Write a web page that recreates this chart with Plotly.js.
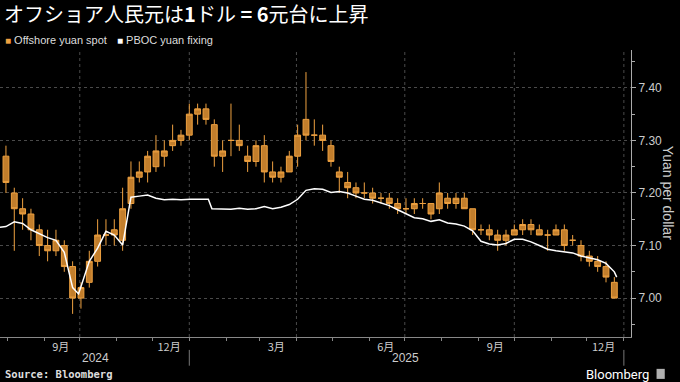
<!DOCTYPE html>
<html>
<head>
<meta charset="utf-8">
<script src="https://cdn.plot.ly/plotly-3.0.1.min.js"></script>
<style>
html,body{margin:0;padding:0;background:#000;}
#chart{width:680px;height:382px;}
</style>
</head>
<body>
<div id="chart"></div>
<script>
// Offshore yuan spot, weekly candles (week mid-point dates)
const spotDates = ['2024-07-31','2024-08-07','2024-08-14','2024-08-21','2024-08-28','2024-09-04','2024-09-11','2024-09-18','2024-09-25','2024-10-02','2024-10-09','2024-10-16','2024-10-23','2024-10-30','2024-11-06','2024-11-13','2024-11-20','2024-11-27','2024-12-04','2024-12-11','2024-12-18','2024-12-25','2025-01-01','2025-01-08','2025-01-15','2025-01-22','2025-01-29','2025-02-05','2025-02-12','2025-02-19','2025-02-26','2025-03-05','2025-03-12','2025-03-19','2025-03-26','2025-04-02','2025-04-09','2025-04-16','2025-04-23','2025-04-30','2025-05-07','2025-05-14','2025-05-21','2025-05-28','2025-06-04','2025-06-11','2025-06-18','2025-06-25','2025-07-02','2025-07-09','2025-07-16','2025-07-23','2025-07-30','2025-08-06','2025-08-13','2025-08-20','2025-08-27','2025-09-03','2025-09-10','2025-09-17','2025-09-24','2025-10-01','2025-10-08','2025-10-15','2025-10-22','2025-10-29','2025-11-05','2025-11-12','2025-11-19','2025-11-26','2025-12-03','2025-12-10','2025-12-17','2025-12-24'];
const spotOpen  = [7.27,7.20,7.17,7.16,7.13,7.10,7.09,7.10,7.06,7.00,7.03,7.07,7.12,7.13,7.11,7.18,7.23,7.24,7.25,7.27,7.29,7.30,7.31,7.35,7.36,7.33,7.27,7.30,7.30,7.27,7.26,7.29,7.24,7.23,7.24,7.27,7.34,7.31,7.31,7.29,7.24,7.22,7.21,7.20,7.20,7.19,7.19,7.18,7.17,7.17,7.18,7.18,7.17,7.19,7.18,7.19,7.17,7.13,7.13,7.12,7.11,7.12,7.13,7.14,7.13,7.12,7.12,7.13,7.11,7.10,7.08,7.07,7.06,7.03];
const spotHigh  = [7.29,7.21,7.19,7.17,7.14,7.13,7.13,7.11,7.07,7.03,7.09,7.15,7.15,7.15,7.21,7.26,7.26,7.28,7.31,7.30,7.33,7.32,7.37,7.37,7.37,7.34,7.30,7.37,7.33,7.29,7.30,7.31,7.26,7.25,7.28,7.33,7.43,7.34,7.33,7.30,7.25,7.24,7.22,7.22,7.21,7.20,7.20,7.19,7.19,7.19,7.19,7.18,7.22,7.20,7.20,7.20,7.17,7.14,7.14,7.13,7.13,7.14,7.15,7.15,7.14,7.13,7.14,7.14,7.12,7.11,7.09,7.08,7.07,7.04];
const spotLow   = [7.20,7.09,7.13,7.11,7.08,7.07,7.08,7.05,6.97,6.98,7.02,7.06,7.10,7.10,7.09,7.17,7.22,7.22,7.24,7.25,7.28,7.29,7.30,7.33,7.33,7.25,7.24,7.27,7.28,7.24,7.25,7.22,7.22,7.22,7.24,7.25,7.30,7.29,7.28,7.25,7.20,7.19,7.19,7.19,7.18,7.18,7.17,7.16,7.16,7.16,7.17,7.15,7.16,7.17,7.17,7.17,7.12,7.12,7.11,7.09,7.10,7.12,7.12,7.12,7.12,7.09,7.12,7.09,7.10,7.07,7.06,7.05,7.03,7.00];
const spotClose = [7.22,7.17,7.16,7.13,7.10,7.09,7.11,7.06,7.00,7.02,7.07,7.12,7.12,7.12,7.17,7.23,7.24,7.27,7.28,7.28,7.30,7.31,7.35,7.36,7.34,7.27,7.28,7.30,7.29,7.26,7.29,7.24,7.23,7.24,7.27,7.31,7.31,7.31,7.30,7.26,7.23,7.21,7.20,7.20,7.19,7.19,7.18,7.17,7.17,7.18,7.18,7.16,7.20,7.18,7.19,7.17,7.13,7.13,7.12,7.11,7.12,7.13,7.14,7.13,7.12,7.12,7.13,7.10,7.11,7.08,7.07,7.06,7.04,7.00];

// PBOC fixing
const fixDates = ['2024-07-26','2024-07-31','2024-08-07','2024-08-14','2024-08-21','2024-08-28','2024-09-04','2024-09-11','2024-09-18','2024-09-25','2024-09-30','2024-10-09','2024-10-16','2024-10-23','2024-10-30','2024-11-06','2024-11-13','2024-11-20','2024-11-27','2024-12-04','2024-12-11','2024-12-18','2024-12-25','2025-01-02','2025-01-08','2025-01-17','2025-01-20','2025-01-29','2025-02-05','2025-02-12','2025-02-19','2025-02-26','2025-03-05','2025-03-12','2025-03-19','2025-03-26','2025-04-02','2025-04-09','2025-04-16','2025-04-23','2025-04-30','2025-05-07','2025-05-14','2025-05-21','2025-05-28','2025-06-04','2025-06-11','2025-06-18','2025-06-25','2025-07-02','2025-07-09','2025-07-16','2025-07-23','2025-07-30','2025-08-06','2025-08-13','2025-08-20','2025-08-27','2025-09-03','2025-09-10','2025-09-17','2025-09-24','2025-10-01','2025-10-08','2025-10-15','2025-10-22','2025-10-29','2025-11-05','2025-11-12','2025-11-19','2025-11-26','2025-12-03','2025-12-10','2025-12-17','2025-12-24','2025-12-26'];
const fixValues = [7.135,7.136,7.145,7.142,7.130,7.122,7.115,7.110,7.087,7.020,7.008,7.070,7.095,7.127,7.120,7.101,7.192,7.194,7.196,7.190,7.187,7.188,7.187,7.188,7.188,7.188,7.170,7.170,7.169,7.171,7.169,7.170,7.174,7.170,7.173,7.178,7.188,7.205,7.208,7.207,7.201,7.203,7.200,7.194,7.188,7.186,7.181,7.176,7.168,7.160,7.153,7.151,7.146,7.149,7.143,7.141,7.137,7.128,7.108,7.103,7.101,7.104,7.112,7.112,7.107,7.100,7.093,7.090,7.088,7.086,7.080,7.076,7.073,7.066,7.050,7.040];

// Axis labels
const monthTickVals = ['2024-09-15','2024-12-15','2025-03-15','2025-06-15','2025-09-15','2025-12-15'];
const monthTickText = ['9月','12月','3月','6月','9月','12月'];
const monthStarts = ['2024-08-01','2024-09-01','2024-10-01','2024-11-01','2024-12-01','2025-01-01','2025-02-01','2025-03-01','2025-04-01','2025-05-01','2025-06-01','2025-07-01','2025-08-01','2025-09-01','2025-10-01','2025-11-01','2025-12-01','2026-01-01'];
const quarterStarts = ['2024-10-01','2025-01-01','2025-04-01','2025-07-01','2025-10-01','2026-01-01'];
const yearLabels = ['2024','2025'];
const yearLabelPos = ['2024-10-14','2025-07-02'];
const yearBreaks = ['2025-01-01','2026-01-01'];
const yTickVals = [7.0,7.1,7.2,7.3,7.4];
const yTickText = ['7.00','7.10','7.20','7.30','7.40'];

const ORANGE = '#eea140';
const BODY = '#c27e2c';

const traces = [
  {
    type: 'candlestick',
    x: spotDates, open: spotOpen, high: spotHigh, low: spotLow, close: spotClose,
    increasing: {line: {color: ORANGE, width: 1}, fillcolor: BODY},
    decreasing: {line: {color: ORANGE, width: 1}, fillcolor: BODY},
    whiskerwidth: 0,
    name: 'Offshore yuan spot', showlegend: false, hoverinfo: 'skip'
  },
  {
    type: 'scatter', mode: 'lines',
    x: fixDates, y: fixValues,
    line: {color: '#ffffff', width: 1.5},
    name: 'PBOC yuan fixing', showlegend: false, hoverinfo: 'skip'
  }
];

const shapes = [];
quarterStarts.forEach(d => shapes.push({
  type: 'line', xref: 'x', yref: 'paper', x0: d, x1: d, y0: 0, y1: 1,
  line: {color: '#4a4a4a', width: 1, dash: 'dot'}, layer: 'below'
}));
yearBreaks.forEach(d => shapes.push({
  type: 'line', xref: 'x', yref: 'paper', x0: d, x1: d, y0: -0.045, y1: -0.10,
  line: {color: '#777', width: 1}
}));
shapes.push({type: 'rect', xref: 'paper', yref: 'paper', x0: 1.0405, x1: 1.0535, y0: -0.146, y1: -0.111,
  fillcolor: '#b0b0b0', line: {width: 0}});

const annotations = [
  {xref: 'paper', yref: 'paper', x: 0.005, y: 1.035, xanchor: 'left', yanchor: 'middle', showarrow: false,
   text: '<span style="color:' + ORANGE + ';font-size:10px">■</span> Offshore yuan spot',
   font: {family: 'Liberation Sans, Arial, sans-serif', size: 11, color: '#dddddd'}},
  {xref: 'paper', yref: 'paper', x: 0.182, y: 1.035, xanchor: 'left', yanchor: 'middle', showarrow: false,
   text: '<span style="color:#ffffff;font-size:10px">■</span> PBOC yuan fixing',
   font: {family: 'Liberation Sans, Arial, sans-serif', size: 11, color: '#dddddd'}},
  {xref: 'paper', yref: 'paper', x: 1.06, y: 0.5, xanchor: 'center', yanchor: 'middle', showarrow: false,
   text: 'Yuan per dollar', textangle: 90,
   font: {family: 'Liberation Sans, Arial, sans-serif', size: 14, color: '#cccccc'}},
  {xref: 'paper', yref: 'paper', x: 0.004, y: -0.129, xanchor: 'left', yanchor: 'middle', showarrow: false,
   text: '<b>Source: Bloomberg</b>',
   font: {family: 'DejaVu Sans Mono, monospace', size: 10.5, color: '#dddddd'}},
  {xref: 'paper', yref: 'paper', x: 1.031, y: -0.129, xanchor: 'right', yanchor: 'middle', showarrow: false,
   text: 'Bloomberg',
   font: {family: 'Roboto, Liberation Sans, sans-serif', size: 13, color: '#ffffff'}}
];
yearLabels.forEach((t, i) => annotations.push({
  xref: 'x', yref: 'paper', x: yearLabelPos[i], y: -0.073, xanchor: 'center', yanchor: 'middle', showarrow: false,
  text: t, font: {family: 'Liberation Sans, Arial, sans-serif', size: 12, color: '#cccccc'}
}));

const layout = {
  width: 680, height: 382,
  paper_bgcolor: '#000', plot_bgcolor: '#000',
  margin: {l: 0, r: 49, t: 50, b: 45, pad: 0},
  showlegend: false,
  boxgap: 0.3,
  boxgroupgap: 0,
  title: {
    text: 'オフショア人民元は<b>1</b>ドル <b>= 6</b>元台に上昇',
    x: 0.006, xanchor: 'left', y: 0.962, yanchor: 'middle',
    font: {family: 'Noto Sans CJK JP, sans-serif', size: 20, color: '#ffffff'}
  },
  xaxis: {
    type: 'date',
    range: ['2024-07-26', '2026-01-07'],
    rangeslider: {visible: false},
    tickmode: 'array', tickvals: monthTickVals, ticktext: monthTickText,
    ticks: '', showgrid: false, zeroline: false,
    showline: true, linecolor: '#888', linewidth: 1,
    tickfont: {family: 'Noto Sans CJK JP, sans-serif', size: 11, color: '#cccccc'},
    minor: {tickmode: 'array', tickvals: monthStarts, ticks: 'outside', ticklen: 3, tickcolor: '#888', tickwidth: 1, showgrid: false},
    fixedrange: true
  },
  yaxis: {
    side: 'right',
    range: [6.926, 7.472],
    tickmode: 'array', tickvals: yTickVals, ticktext: yTickText,
    ticks: 'outside', ticklen: 4, tickcolor: '#aaa', tickwidth: 1,
    showline: true, linecolor: '#aaa', linewidth: 1,
    showgrid: true, gridcolor: '#4a4a4a', griddash: 'dot', gridwidth: 1,
    zeroline: false,
    tickfont: {family: 'Liberation Sans, Arial, sans-serif', size: 12, color: '#cccccc'},
    minor: {dtick: 0.05, tick0: 7.0, ticks: 'outside', ticklen: 3, tickcolor: '#aaa', showgrid: false},
    fixedrange: true
  },
  shapes: shapes,
  annotations: annotations
};

Plotly.newPlot('chart', traces, layout, {displayModeBar: false, staticPlot: true});
</script>
</body>
</html>
